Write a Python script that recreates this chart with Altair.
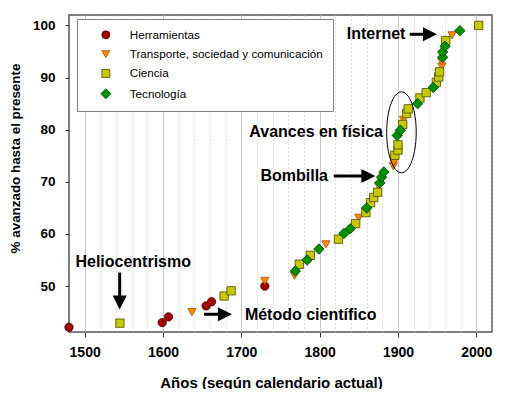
import altair as alt
import pandas as pd

FONT = "Liberation Sans"

categories = ["Herramientas", "Transporte, sociedad y comunicación", "Ciencia", "Tecnología"]
fill_colors = ["#A00000", "#FF8C00", "#C8C800", "#009000"]
stroke_colors = ["#4A0000", "#B04A00", "#4A4A00", "#004000"]
diamond = "M0,-1.25 L1.25,0 L0,1.25 L-1.25,0 Z"
shapes = ["circle", "triangle-down", "square", diamond]

herr_year = [1480, 1599, 1607, 1655, 1662, 1730]
herr_val = [42.1, 43.0, 44.1, 46.2, 47.0, 50.0]

trans_year = [1637, 1730, 1768, 1808, 1850, 1875, 1894, 1895, 1907, 1956, 1956, 1969]
trans_val = [45.0, 51.0, 52.0, 58.0, 63.1, 69.2, 73.0, 73.8, 81.9, 92.1, 93.0, 98.1]

cien_year = [1545, 1678, 1687, 1774, 1788, 1824, 1846, 1859, 1865, 1869, 1874, 1896, 1900,
             1900, 1906, 1911, 1913, 1928, 1936, 1949, 1952, 1953, 1961, 2003]
cien_val = [42.9, 48.1, 49.1, 54.2, 55.9, 59.0, 62.0, 64.1, 66.0, 67.0, 68.0, 75.1, 76.1,
            77.1, 81.0, 83.1, 84.0, 86.1, 87.1, 89.1, 90.1, 91.1, 97.1, 100.0]

tec_year = [1769, 1784, 1799, 1831, 1839, 1860, 1877, 1879, 1882, 1899, 1903, 1925, 1945,
            1957, 1957, 1960, 1979]
tec_val = [52.9, 55.0, 57.1, 60.1, 61.0, 65.0, 69.8, 70.9, 71.9, 78.9, 79.9, 85.0, 88.1,
           93.9, 94.9, 96.0, 99.0]

x_ticks = [1500, 1600, 1700, 1800, 1900, 2000]
x_minor = [y for y in range(1500, 2021, 20) if y % 100 != 0]
y_ticks = [50, 60, 70, 80, 90, 100]

# annotations (data coordinates)
ann_text = ["Internet", "Avances en física", "Bombilla", "Heliocentrismo", "Método científico"]
ann_x = [1872, 1795.5, 1767.5, 1562, 1788.5]
ann_y = [98.3, 79.5, 71.1, 54.6, 44.5]

arrow_tail_x = [1915, 1818, 1544.7, 1652.3]
arrow_tail_y = [98.3, 71.1, 52.6, 44.6]
arrow_end_x = [1938, 1858, 1544.7, 1677]
arrow_end_y = [98.3, 71.1, 47.6, 44.6]
arrow_tip_x = [1949.8, 1871.1, 1544.7, 1688.0]
arrow_tip_y = [98.3, 71.1, 45.5, 44.6]
head_right = "M0,0 L-2,-1 L-2,1 Z"
head_down = "M0,0 L-1,-2 L1,-2 Z"
arrow_head = [head_right, head_right, head_down, head_right]

ellipse_x = [1904.4]
ellipse_y = [79.5]
ellipse_path = ("M0.365,0 C0.365,0.5523 0.2016,1 0,1 C-0.2016,1 -0.365,0.5523 -0.365,0 "
                "C-0.365,-0.5523 -0.2016,-1 0,-1 C0.2016,-1 0.365,-0.5523 0.365,0 Z")

rows = []
for cat, ys, vs in zip(categories, [herr_year, trans_year, cien_year, tec_year],
                       [herr_val, trans_val, cien_val, tec_val]):
    for a, b in zip(ys, vs):
        rows.append({"cat": cat, "year": a, "value": b})
df = pd.DataFrame(rows)

ann_df = pd.DataFrame({"text": ann_text, "x": ann_x, "y": ann_y})
arrow_df = pd.DataFrame({"x": arrow_tail_x, "y": arrow_tail_y, "x2": arrow_end_x, "y2": arrow_end_y,
                         "tx": arrow_tip_x, "ty": arrow_tip_y, "head": arrow_head})
ell_df = pd.DataFrame({"x": ellipse_x, "y": ellipse_y})

x_scale = alt.Scale(domain=[1480, 2020], nice=False, zero=False)
y_scale = alt.Scale(domain=[41.2, 102], nice=False, zero=False)

y_axis = alt.Axis(values=y_ticks, grid=False, domain=False, tickSize=4,
                  tickColor="#333", labelFont=FONT, labelFontSize=13.5,
                  labelFontWeight="bold", labelColor="black", labelPadding=10,
                  title="% avanzado hasta el presente", titleFont=FONT,
                  titleFontSize=13.4, titleFontWeight="bold", titleColor="black",
                  titlePadding=10, titleY=143, titleAlign="center")

minor = alt.Chart(df).mark_point(opacity=0).encode(
    x=alt.X("year:Q", scale=x_scale,
            axis=alt.Axis(orient="top", values=x_minor, grid=True, gridDash=[1, 3],
                          gridColor="#b8b8b8", gridWidth=1, labels=False, ticks=False,
                          domain=False, title=None)),
    y=alt.Y("value:Q", scale=y_scale, axis=y_axis),
)

leg = alt.Legend(title=None, orient="none", legendX=8, legendY=4, fillColor="white",
                 strokeColor="#808080", padding=10, labelFont=FONT, labelFontSize=11.7,
                 labelColor="black", symbolOffset=13, labelOffset=18, rowPadding=6.3,
                 symbolSize=64, symbolStrokeWidth=0.8, labelLimit=400)

points = alt.Chart(df).mark_point(filled=True, size=70, strokeWidth=0.8, opacity=1).encode(
    x=alt.X("year:Q", scale=x_scale,
            axis=alt.Axis(values=x_ticks, format="d", grid=True, gridColor="#c8c8c8",
                          gridWidth=1, domain=False, tickSize=5, tickColor="#333",
                          labelFont=FONT, labelFontSize=14, labelFontWeight="bold",
                          labelColor="black", labelPadding=8,
                          title="Años (según calendario actual)", titleFont=FONT,
                          titleFontSize=15, titleFontWeight="bold", titleColor="black",
                          titlePadding=16, titleX=202, titleAlign="center")),
    y=alt.Y("value:Q", scale=y_scale, axis=y_axis),
    shape=alt.Shape("cat:N", scale=alt.Scale(domain=categories, range=shapes), legend=leg),
    fill=alt.Fill("cat:N", scale=alt.Scale(domain=categories, range=fill_colors), legend=leg),
    stroke=alt.Stroke("cat:N", scale=alt.Scale(domain=categories, range=stroke_colors), legend=leg),
)

ellipse = alt.Chart(ell_df).mark_point(shape=ellipse_path, size=6561, filled=False,
                                        stroke="black", strokeWidth=1, opacity=1).encode(
    x=alt.X("x:Q", scale=x_scale, axis=None),
    y=alt.Y("y:Q", scale=y_scale, axis=y_axis),
)

shafts = alt.Chart(arrow_df).mark_rule(color="black", strokeWidth=3).encode(
    x=alt.X("x:Q", scale=x_scale, axis=None),
    y=alt.Y("y:Q", scale=y_scale, axis=y_axis),
    x2="x2:Q",
    y2="y2:Q",
)

heads = alt.Chart(arrow_df).mark_point(filled=True, size=196, color="black", opacity=1).encode(
    x=alt.X("tx:Q", scale=x_scale, axis=None),
    y=alt.Y("ty:Q", scale=y_scale, axis=y_axis),
    shape=alt.Shape("head:N", scale=None, legend=None),
)

texts = alt.Chart(ann_df).mark_text(font=FONT, fontSize=16, fontWeight="bold", color="black",
                                    align="center", baseline="middle").encode(
    x=alt.X("x:Q", scale=x_scale, axis=None),
    y=alt.Y("y:Q", scale=y_scale, axis=y_axis),
    text="text:N",
)

chart = alt.layer(minor, points, ellipse, shafts, heads, texts).resolve_axis(
    x="independent"
).properties(
    width=423, height=317,
    autosize=alt.AutoSizeParams(type="none"),
    padding={"left": 61, "top": 7, "right": 5, "bottom": 57},
    background="white",
).configure_view(stroke="#555555", strokeWidth=1.5)

chart.save("out.html", embed_options={"renderer": "svg", "actions": False})
